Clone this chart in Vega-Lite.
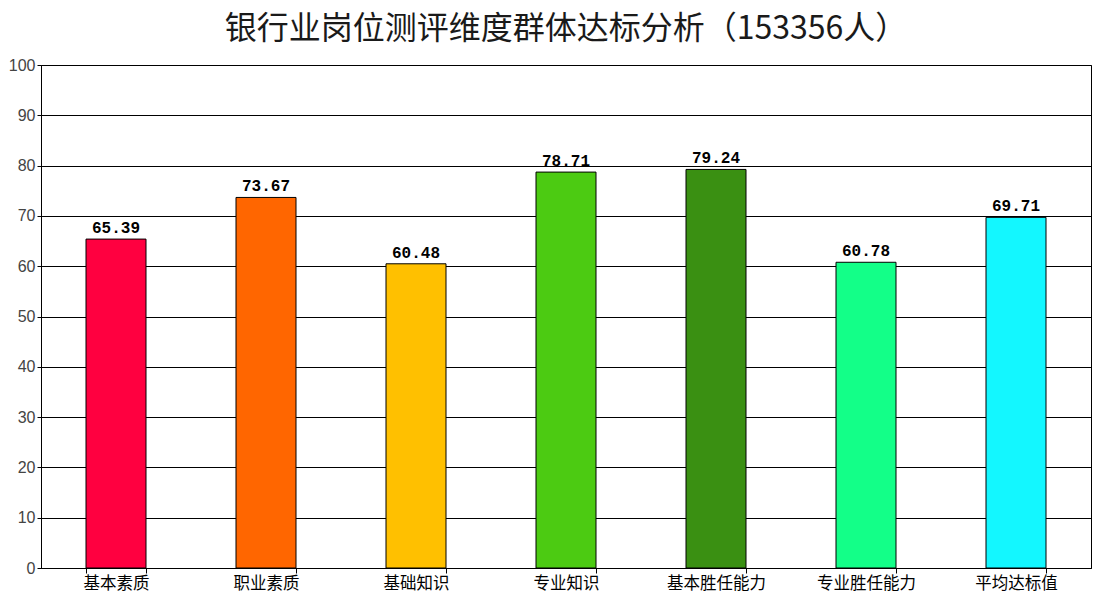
{
  "$schema": "https://vega.github.io/schema/vega-lite/v6.json",
  "autosize": {"type": "none"},
  "width": 1050,
  "height": 503,
  "padding": {"left": 41, "top": 65, "right": 9, "bottom": 32},
  "background": "white",
  "config": {
    "view": {"stroke": "black", "strokeWidth": 1},
    "font": "Noto Sans CJK SC"
  },
  "title": {
    "text": "银行业岗位测评维度群体达标分析（153356人）",
    "font": "Noto Sans CJK SC",
    "fontSize": 32,
    "fontWeight": "normal",
    "color": "#1a1a1a",
    "anchor": "middle",
    "offset": 11
  },
  "data": {
    "values": [
      {"dim": "基本素质", "score": 65.39},
      {"dim": "职业素质", "score": 73.67},
      {"dim": "基础知识", "score": 60.48},
      {"dim": "专业知识", "score": 78.71},
      {"dim": "基本胜任能力", "score": 79.24},
      {"dim": "专业胜任能力", "score": 60.78},
      {"dim": "平均达标值", "score": 69.71}
    ]
  },
  "encoding": {
    "x": {
      "field": "dim",
      "type": "nominal",
      "sort": null,
      "scale": {"paddingInner": 0.6, "paddingOuter": 0.3},
      "axis": {
        "title": null,
        "labelAngle": 0,
        "labelFont": "Noto Sans CJK SC",
        "labelFontSize": 16.5,
        "labelColor": "black",
        "labelPadding": 2,
        "ticks": true,
        "tickBand": "extent",
        "tickColor": "black",
        "tickSize": 5,
        "domainColor": "black"
      }
    },
    "y": {
      "field": "score",
      "type": "quantitative",
      "scale": {"domain": [0, 100]},
      "axis": {
        "title": null,
        "values": [0, 10, 20, 30, 40, 50, 60, 70, 80, 90, 100],
        "labelOverlap": false,
        "grid": true,
        "gridColor": "black",
        "gridOpacity": 1,
        "gridWidth": 1,
        "domainColor": "black",
        "tickColor": "black",
        "tickSize": 4,
        "labelFont": "Liberation Sans",
        "labelFontSize": 16,
        "labelColor": "#444444",
        "labelPadding": 2
      }
    }
  },
  "layer": [
    {
      "mark": {"type": "bar", "stroke": "black", "strokeWidth": 1},
      "encoding": {
        "color": {
          "field": "dim",
          "type": "nominal",
          "sort": null,
          "scale": {
            "domain": ["基本素质", "职业素质", "基础知识", "专业知识", "基本胜任能力", "专业胜任能力", "平均达标值"],
            "range": ["#FF0040", "#FF6600", "#FFC000", "#4CCB12", "#3A9012", "#13FF88", "#13F7FF"]
          },
          "legend": null
        }
      }
    },
    {
      "mark": {
        "type": "text",
        "baseline": "bottom",
        "dy": -3,
        "font": "Liberation Mono",
        "fontSize": 16,
        "fontWeight": "bold",
        "color": "black"
      },
      "encoding": {
        "text": {"field": "score", "type": "quantitative", "format": ".2f"}
      }
    }
  ]
}
